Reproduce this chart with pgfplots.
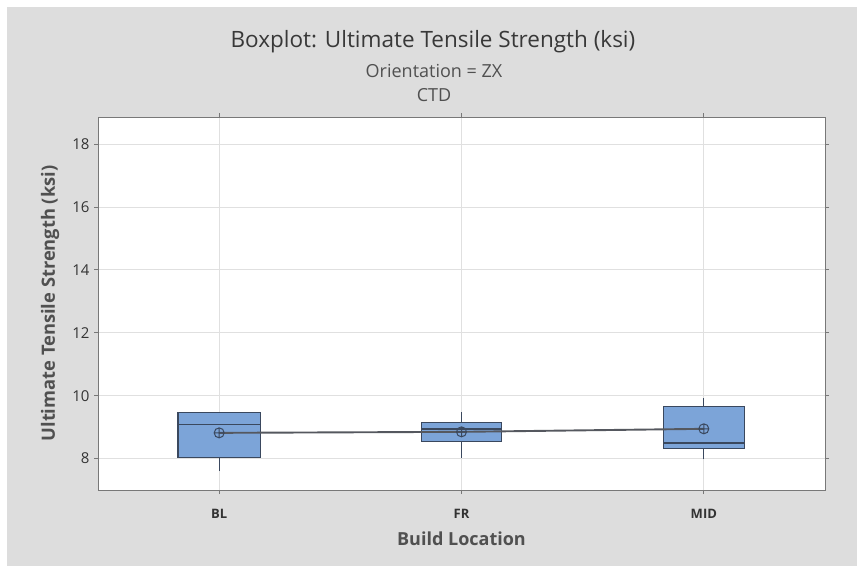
\documentclass[border=0pt]{standalone}
\usepackage{pgfplots}
\pgfplotsset{compat=1.18}
\usepackage{fontspec}
\setmainfont{Open Sans}
\definecolor{bg}{RGB}{221,221,221}
\definecolor{boxfill}{RGB}{124,164,216}
\definecolor{boxedge}{RGB}{58,72,94}
\definecolor{gridc}{RGB}{224,224,224}
\definecolor{txt}{RGB}{80,80,80}
\definecolor{frame}{RGB}{120,120,120}
\definecolor{meanc}{RGB}{85,88,95}
\begin{document}
\begin{tikzpicture}
\fill[white] (0pt,0pt) rectangle (857pt,566pt);
\fill[bg] (7pt,0pt) rectangle (857pt,559pt);
\begin{axis}[
  at={(98pt,76pt)}, anchor=south west,
  scale only axis, width=727pt, height=373pt,
  xmin=-0.5, xmax=2.5, ymin=7, ymax=18.86,
  xtick={0,1,2}, xticklabels={BL,FR,MID},
  ytick={8,10,12,14,16,18},
  grid=major, major grid style={gridc, line width=0.8pt},
  axis line style={frame, line width=1pt},
  tick style={frame, line width=0.8pt},
  tick align=outside, major tick length=4pt,
  axis background/.style={fill=white},
  xticklabel style={font=\fontsize{13}{15}\selectfont\bfseries, text=black!80, anchor=center, yshift=-20pt},
  yticklabel style={font=\fontsize{15}{17}\selectfont, text=black!80, anchor=east, xshift=-1pt},
  xlabel={Build Location},
  ylabel={Ultimate Tensile Strength (ksi)},
  xlabel style={font=\fontsize{18}{21}\selectfont\bfseries, text=txt, at={(axis description cs:0.5,0)}, anchor=center, yshift=-49pt},
  ylabel style={font=\fontsize{18.3}{21}\selectfont\bfseries, text=txt, at={(axis description cs:-0.066,0.5)}, anchor=center},
  /pgf/number format/assume math mode=true,
  whisk/.style={boxedge, line width=1.3pt},
  boxs/.style={fill=boxfill, draw=boxedge, line width=1.1pt, line join=miter},
  med/.style={boxedge, line width=1.5pt},
]
% whiskers
\addplot[whisk] coordinates {(0,7.60) (0,8.04)};
\addplot[whisk] coordinates {(1,8.02) (1,8.552)};
\addplot[whisk] coordinates {(1,9.136) (1,9.487)};
\addplot[whisk] coordinates {(2,7.97) (2,8.306)};
\addplot[whisk] coordinates {(2,9.647) (2,9.934)};
% boxes (Q1 to Q3)
\addplot[boxs] coordinates {(0,8.04) (0.17,8.04) (0.17,9.455) (-0.17,9.455) (-0.17,8.04) (0,8.04)};
\addplot[boxs] coordinates {(1,8.552) (1.165,8.552) (1.165,9.136) (0.835,9.136) (0.835,8.552) (1,8.552)};
\addplot[boxs] coordinates {(2,8.306) (2.166,8.306) (2.166,9.647) (1.834,9.647) (1.834,8.306) (2,8.306)};
% medians
\addplot[med] coordinates {(-0.17,9.085) (0.17,9.085)};
\addplot[med] coordinates {(0.835,8.945) (1.165,8.945)};
\addplot[med] coordinates {(1.834,8.498) (2.166,8.498)};
% means
\addplot[color=meanc, line width=1.9pt, mark=oplus, mark size=5pt, mark options={line width=1pt, draw=boxedge, fill=none}] coordinates {(0,8.817) (1,8.849) (2,8.945)};
\end{axis}
\node[font=\fontsize{22.5}{26}\selectfont, text=black!78] at (433pt,524pt) {Boxplot: Ultimate Tensile Strength (ksi)};
\node[font=\fontsize{18}{21}\selectfont, text=txt] at (434pt,495pt) {Orientation = ZX};
\node[font=\fontsize{18}{21}\selectfont, text=txt] at (434pt,471pt) {CTD};
\end{tikzpicture}
\end{document}
